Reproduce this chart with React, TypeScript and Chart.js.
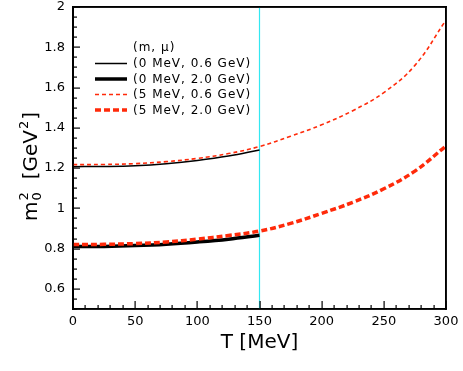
import { useEffect, useRef } from 'react';
import { Chart, registerables } from 'chart.js';

Chart.register(...registerables);

// ---- data ----
const T_ZERO_MASS = [0, 25, 50, 75, 100, 125, 150];
const M0SQ_0MEV_06 = [1.207, 1.208, 1.212, 1.222, 1.238, 1.26, 1.29];
const M0SQ_0MEV_20 = [0.81, 0.811, 0.815, 0.822, 0.833, 0.847, 0.866];

const T_FINITE_MASS = [0, 25, 50, 75, 100, 125, 150, 175, 200, 225, 250, 275, 300];
const M0SQ_5MEV_06 = [1.217, 1.218, 1.222, 1.232, 1.248, 1.272, 1.307, 1.358, 1.415, 1.485, 1.575, 1.71, 1.935];
const M0SQ_5MEV_20 = [0.82, 0.821, 0.825, 0.833, 0.847, 0.865, 0.887, 0.925, 0.975, 1.03, 1.097, 1.185, 1.31];

const CRITICAL_T = 150;
const LEGEND_TITLE = '(m, \u03bc)';
const LABELS = ['(0 MeV, 0.6 GeV)', '(0 MeV, 2.0 GeV)', '(5 MeV, 0.6 GeV)', '(5 MeV, 2.0 GeV)'];
const X_MIN = 0, X_MAX = 300, X_STEP = 10, X_LABEL_STEP = 50;
const Y_MIN = 0.5, Y_MAX = 2, Y_STEP = 0.05, Y_LABEL_STEP = 0.2;

const FONT = '"DejaVu Sans", Verdana, sans-serif';
const RED = '#ff2a0a';

const pts = (xs: number[], ys: number[]) => xs.map((x, i) => ({ x, y: ys[i] }));
const isMult = (v: number, s: number) => Math.abs(v / s - Math.round(v / s)) < 1e-6;

const decorPlugin = {
  id: 'decor',
  afterDraw(chart: any) {
    const ctx: CanvasRenderingContext2D = chart.ctx;
    const xs = chart.scales.x, ys = chart.scales.y;
    const L = xs.left, R = xs.right, T = ys.top, B = ys.bottom;
    ctx.save();
    // frame
    ctx.strokeStyle = '#000000';
    ctx.lineWidth = 1.6;
    ctx.setLineDash([]);
    ctx.strokeRect(L, T, R - L, B - T);
    ctx.fillStyle = '#000000';
    // inward ticks
    xs.ticks.forEach((t: any) => {
      const px = Math.round(xs.getPixelForValue(t.value));
      const len = isMult(t.value, X_LABEL_STEP) ? 8 : 4;
      ctx.fillRect(px - 0.5, B - len, 1.2, len);
    });
    ys.ticks.forEach((t: any) => {
      const py = Math.round(ys.getPixelForValue(t.value));
      const len = isMult(t.value, Y_LABEL_STEP) ? 7 : 4;
      ctx.fillRect(L, py - 0.5, len, 1.2);
    });

    // x title
    ctx.font = `20px ${FONT}`;
    ctx.textAlign = 'center';
    ctx.textBaseline = 'alphabetic';
    ctx.fillText('T [MeV]', (L + R) / 2, 348);

    // y title (rotated) m_0^2 [GeV^2]
    ctx.save();
    ctx.translate(37, 221);
    ctx.rotate(-Math.PI / 2);
    ctx.textAlign = 'left';
    let cx = 0;
    ctx.font = `20px ${FONT}`;
    ctx.fillText('m', cx, 0);
    cx += ctx.measureText('m').width + 1;
    ctx.font = `13px ${FONT}`;
    ctx.fillText('0', cx, 4);
    ctx.fillText('2', cx, -9);
    cx += ctx.measureText('0').width + 13;
    ctx.font = `20px ${FONT}`;
    ctx.fillText('[GeV', cx, 0);
    cx += ctx.measureText('[GeV').width + 1;
    ctx.font = `13px ${FONT}`;
    ctx.fillText('2', cx, -9);
    cx += ctx.measureText('2').width + 1;
    ctx.font = `20px ${FONT}`;
    ctx.fillText(']', cx, 0);
    ctx.restore();

    // legend
    ctx.font = `12px ${FONT}`;
    (ctx as any).letterSpacing = '1px';
    ctx.textAlign = 'left';
    ctx.textBaseline = 'middle';
    ctx.fillText(LEGEND_TITLE, 133, 48);
    const rows = [63.5, 79, 94.5, 110];
    chart.data.datasets.filter((d: any) => d.inLegend).forEach((d: any, i: number) => {
      const y = rows[i];
      ctx.save();
      ctx.strokeStyle = d.borderColor;
      ctx.lineWidth = d.borderWidth;
      ctx.setLineDash(d.borderDash || []);
      ctx.beginPath();
      ctx.moveTo(95, y);
      ctx.lineTo(127, y);
      ctx.stroke();
      ctx.restore();
      ctx.fillStyle = '#000';
      ctx.fillText(d.label, 133, y + 0.5);
    });
    (ctx as any).letterSpacing = '0px';
    ctx.restore();
  },
};

const edgeAxis = (position: string, min: number, max: number, vertical: boolean) => ({
  type: 'linear', position, min, max, display: true,
  grid: { display: false, drawTicks: false },
  border: { display: true, color: '#000', width: 1.6 },
  ticks: { display: false },
  afterFit: (s: any) => {
    if (vertical) s.width = 0; else s.height = 0;
    s.paddingLeft = 0; s.paddingRight = 0; s.paddingTop = 0; s.paddingBottom = 0;
  },
});

export default function App() {
  const ref = useRef<HTMLCanvasElement | null>(null);
  useEffect(() => {
    document.body.style.margin = '0';
    const canvas = ref.current!;
    const common = { pointRadius: 0, fill: false, tension: 0.4 };
    const chart = new Chart(canvas, {
      type: 'line',
      data: {
        datasets: [
          { ...common, label: LABELS[0], inLegend: true, data: pts(T_ZERO_MASS, M0SQ_0MEV_06), borderColor: '#000', borderWidth: 1.5, order: 2 } as any,
          { ...common, label: LABELS[1], inLegend: true, data: pts(T_ZERO_MASS, M0SQ_0MEV_20), borderColor: '#000', borderWidth: 3.5, order: 2 } as any,
          { ...common, label: LABELS[2], inLegend: true, data: pts(T_FINITE_MASS, M0SQ_5MEV_06), borderColor: RED, borderWidth: 1.6, borderDash: [4, 3], order: 1 } as any,
          { ...common, label: LABELS[3], inLegend: true, data: pts(T_FINITE_MASS, M0SQ_5MEV_20), borderColor: RED, borderWidth: 3.5, borderDash: [6, 3], order: 1 } as any,
          { ...common, label: 'Tc', inLegend: false, data: [{ x: CRITICAL_T, y: Y_MIN }, { x: CRITICAL_T, y: Y_MAX }], borderColor: '#33e8f2', borderWidth: 1.2, order: 3 } as any,
        ],
      },
      options: {
        responsive: false,
        animation: false,
        layout: { padding: { top: 7, right: 17, left: 0, bottom: 0 } },
        plugins: { legend: { display: false }, tooltip: { enabled: false } },
        scales: {
          x: {
            type: 'linear', min: X_MIN, max: X_MAX,
            grid: { display: false, drawTicks: false },
            border: { display: true, color: '#000', width: 1.6 },
            ticks: {
              stepSize: X_STEP, autoSkip: false, maxRotation: 0, padding: 5, color: '#000',
              font: { family: FONT, size: 13 },
              callback: (v: any) => (isMult(Number(v), X_LABEL_STEP) ? String(Math.round(Number(v))) : ''),
            },
            afterFit: (s: any) => { s.height = 62; s.paddingLeft = 0; s.paddingRight = 0; },
          },
          y: {
            type: 'linear', min: Y_MIN, max: Y_MAX,
            grid: { display: false, drawTicks: false },
            border: { display: true, color: '#000', width: 2 },
            ticks: {
              stepSize: Y_STEP, autoSkip: false, padding: 8, color: '#000',
              font: { family: FONT, size: 13 },
              callback: (v: any) => {
                const n = Number(v);
                return isMult(n, Y_LABEL_STEP) && n > Y_MIN + 1e-6 ? String(Number(n.toFixed(1))) : '';
              },
            },
            afterFit: (s: any) => { s.width = 73; s.paddingTop = 0; s.paddingBottom = 0; },
          },
          xTop: edgeAxis('top', X_MIN, X_MAX, false) as any,
          yRight: edgeAxis('right', Y_MIN, Y_MAX, true) as any,
        },
      },
      plugins: [decorPlugin],
    });
    return () => chart.destroy();
  }, []);
  return (
    <div style={{ width: 463, height: 371 }}>
      <canvas ref={ref} width={463} height={371} />
    </div>
  );
}
